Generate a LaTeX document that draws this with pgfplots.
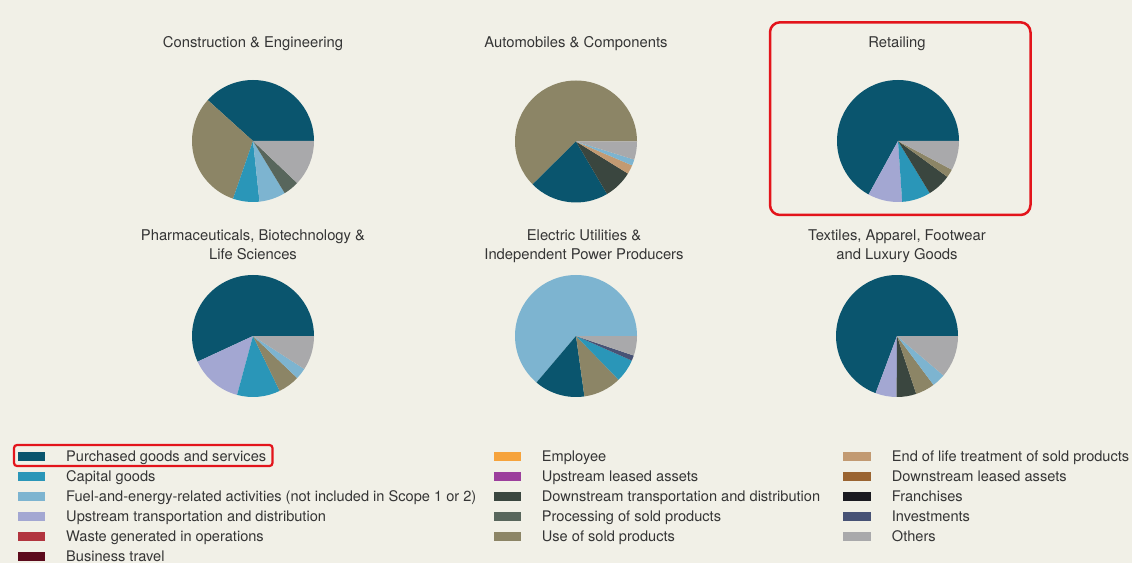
\documentclass[border=0pt]{standalone}
\usepackage{pgfplots}
\pgfplotsset{compat=1.18}
\usepackage{pgfplotstable}
\usepackage{fontspec}
\setmainfont{TeX Gyre Heros}

\definecolor{bg}{HTML}{F1F0E7}
\definecolor{txt}{HTML}{353535}
\definecolor{boxred}{HTML}{E3141B}
\definecolor{purchased}{HTML}{0A556E}
\definecolor{capital}{HTML}{2A96B8}
\definecolor{fuel}{HTML}{7DB4D0}
\definecolor{upstream}{HTML}{A3A7D2}
\definecolor{waste}{HTML}{B2353F}
\definecolor{travel}{HTML}{5C0A1C}
\definecolor{employee}{HTML}{F6A33C}
\definecolor{upleased}{HTML}{9C3F9C}
\definecolor{downstream}{HTML}{3A463F}
\definecolor{processing}{HTML}{58665C}
\definecolor{usesold}{HTML}{8C8566}
\definecolor{endoflife}{HTML}{C29A72}
\definecolor{downleased}{HTML}{9A6431}
\definecolor{franchises}{HTML}{1A1A20}
\definecolor{investments}{HTML}{475275}
\definecolor{others}{HTML}{A9A9AB}

% shares in percent, drawn counter-clockwise from 3 o'clock
\pgfplotstableread{
cat share
purchased 38.3
usesold 31.4
capital 7.0
fuel 7.0
processing 4.2
others 12.1
}\tabConstr
\pgfplotstableread{
cat share
usesold 62.4
purchased 21.1
downstream 7.7
endoflife 2.4
fuel 1.6
others 4.8
}\tabAuto
\pgfplotstableread{
cat share
purchased 67.0
upstream 9.1
capital 7.6
downstream 6.3
usesold 2.2
others 7.8
}\tabRetail
\pgfplotstableread{
cat share
purchased 56.9
upstream 13.9
capital 11.4
usesold 5.7
fuel 3.0
others 9.1
}\tabPharma
\pgfplotstableread{
cat share
fuel 63.8
purchased 13.4
usesold 10.1
capital 6.1
investments 1.4
others 5.2
}\tabElec
\pgfplotstableread{
cat share
purchased 69.3
upstream 5.6
downstream 5.2
usesold 5.1
fuel 3.6
others 11.2
}\tabTextile

\def\R{61pt}
\newcommand{\piewedges}[1]{%
  \pgfkeys{/pgf/fpu=false}%
  \pgfplotstablegetrowsof{#1}%
  \pgfmathtruncatemacro\nlast{\pgfplotsretval-1}%
  \def\pietot{0}%
  \pgfplotsforeachungrouped \i in {0,...,\nlast}{%
    \pgfplotstablegetelem{\i}{share}\of{#1}%
    \pgfmathsetmacro\pietot{\pietot+\pgfplotsretval}}%
  \def\piecum{0}%
  \pgfplotsforeachungrouped \i in {0,...,\nlast}{%
    \pgfplotstablegetelem{\i}{share}\of{#1}\let\sliceval\pgfplotsretval
    \pgfplotstablegetelem{\i}{cat}\of{#1}\let\slicecol\pgfplotsretval
    \pgfmathsetmacro\angA{360*(\piecum/\pietot)}%
    \pgfmathsetmacro\angB{360*((\piecum+\sliceval)/\pietot)}%
    \fill[fill=\slicecol] (axis cs:0,0) -- ++(\angA:\R) arc[start angle=\angA, end angle=\angB, radius=\R] -- cycle;
    \pgfmathsetmacro\piecum{\piecum+\sliceval}%
  }}

\pgfplotsset{pieaxis/.style={hide axis, scale only axis, width=122pt, height=122pt,
  xmin=-1, xmax=1, ymin=-1, ymax=1, anchor=center, clip=false}}

\begin{document}
\begin{tikzpicture}[x=1pt,y=1pt]
\fill[bg] (0,0) rectangle (1132,563);

\begin{axis}[pieaxis, at={(253pt,422pt)}]
\pgfplotsextra{\piewedges{\tabConstr}}
\end{axis}
\begin{axis}[pieaxis, at={(576pt,421.5pt)}]
\pgfplotsextra{\piewedges{\tabAuto}}
\end{axis}
\begin{axis}[pieaxis, at={(898pt,422pt)}]
\pgfplotsextra{\piewedges{\tabRetail}}
\end{axis}
\begin{axis}[pieaxis, at={(253pt,227pt)}]
\pgfplotsextra{\piewedges{\tabPharma}}
\end{axis}
\begin{axis}[pieaxis, at={(576pt,227pt)}]
\pgfplotsextra{\piewedges{\tabElec}}
\end{axis}
\begin{axis}[pieaxis, at={(897pt,227pt)}]
\pgfplotsextra{\piewedges{\tabTextile}}
\end{axis}

% titles
\begin{scope}[every node/.style={text=txt, font=\fontsize{14.8}{17}\selectfont, anchor=base, inner sep=0pt}]
\node at (253,515.7) {Construction \& Engineering};
\node at (576,515.7) {Automobiles \& Components};
\node at (897,515.7) {Retailing};
\node at (253,322.3) {Pharmaceuticals, Biotechnology \&};
\node at (253,303) {Life Sciences};
\node at (584,322.3) {Electric Utilities \&};
\node at (584,303) {Independent Power Producers};
\node at (897,322.3) {Textiles, Apparel, Footwear};
\node at (897,303) {and Luxury Goods};
\end{scope}

% highlight boxes
\draw[boxred, line width=2.5pt, rounded corners=10pt] (770,540.7) rectangle (1030.5,348);
\draw[boxred, line width=2.2pt, rounded corners=3pt] (14,118) rectangle (272.5,97);

% legend
\begin{scope}[every node/.style={text=txt, font=\fontsize{14.6}{17}\selectfont, anchor=base west, inner sep=0pt}]
\foreach \col/\lab [count=\k from 0] in {purchased/Purchased goods and services,
  capital/Capital goods,
  fuel/Fuel-and-energy-related activities (not included in Scope 1 or 2),
  upstream/Upstream transportation and distribution,
  waste/Waste generated in operations,
  travel/Business travel}{
  \fill[\col] (18.3,{107-20*\k-4.5}) rectangle (45,{107-20*\k+4.5});
  \node at (66,{107-20*\k-5}) {\lab};
}
\foreach \col/\lab [count=\k from 0] in {employee/Employee,
  upleased/Upstream leased assets,
  downstream/Downstream transportation and distribution,
  processing/Processing of sold products,
  usesold/Use of sold products}{
  \fill[\col] (494.3,{107-20*\k-4.5}) rectangle (520.7,{107-20*\k+4.5});
  \node at (541.7,{107-20*\k-5}) {\lab};
}
\foreach \col/\lab [count=\k from 0] in {endoflife/End of life treatment of sold products,
  downleased/Downstream leased assets,
  franchises/Franchises,
  investments/Investments,
  others/Others}{
  \fill[\col] (843.3,{107-20*\k-4.5}) rectangle (870.7,{107-20*\k+4.5});
  \node at (891.7,{107-20*\k-5}) {\lab};
}
\end{scope}
\end{tikzpicture}
\end{document}
